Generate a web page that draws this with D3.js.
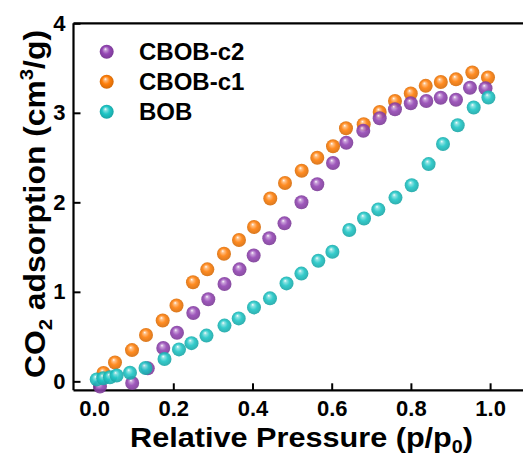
<!DOCTYPE html>
<html>
<head>
<meta charset="utf-8">
<script src="https://cdn.jsdelivr.net/npm/d3@7/dist/d3.min.js"></script>
<style>
  html, body { margin: 0; padding: 0; background: #fff; }
  svg { display: block; }
  text { font-family: Arial, "Liberation Sans", sans-serif; font-weight: bold; fill: #000; }
</style>
</head>
<body>
<svg id="chart" width="523" height="457"></svg>
<script>
// CO2 adsorption isotherms: relative pressure (p/p0) vs uptake (cm3/g)
const seriesNames = ["CBOB-c2", "CBOB-c1", "BOB"];
const seriesColors = ["#9446b4", "#ff7f0a", "#1fc6c6"];

const c2P = [0.0149, 0.0962, 0.1356, 0.1747, 0.2093, 0.2505, 0.2884, 0.3293, 0.3672, 0.4030,
             0.4424, 0.4808, 0.5237, 0.5636, 0.6033, 0.6369, 0.6798, 0.7212, 0.7598, 0.7997,
             0.8389, 0.8753, 0.9139, 0.9492, 0.9884];
const c2Q = [-0.058, -0.019, 0.145, 0.372, 0.543, 0.763, 0.917, 1.087, 1.251, 1.406,
             1.598, 1.765, 2.000, 2.202, 2.439, 2.666, 2.800, 2.939, 3.039, 3.106,
             3.132, 3.169, 3.146, 3.280, 3.274];

const c1P = [0.0237, 0.0528, 0.0957, 0.1311, 0.1732, 0.2081, 0.2497, 0.2859, 0.3280, 0.3659,
             0.4038, 0.4449, 0.4821, 0.5242, 0.5636, 0.6033, 0.6361, 0.6808, 0.7212, 0.7598,
             0.7997, 0.8374, 0.8755, 0.9139, 0.9551, 0.9947];
const c1Q = [0.093, 0.210, 0.349, 0.517, 0.679, 0.847, 1.107, 1.251, 1.426, 1.579,
             1.724, 2.042, 2.216, 2.353, 2.498, 2.626, 2.827, 2.873, 3.009, 3.132,
             3.216, 3.301, 3.344, 3.374, 3.450, 3.394];

const bobP = [0.0066, 0.0232, 0.0401, 0.0570, 0.0906, 0.1298, 0.1778, 0.2144, 0.2460, 0.2838,
              0.3293, 0.3652, 0.4038, 0.4442, 0.4859, 0.5235, 0.5662, 0.6018, 0.6444, 0.6816,
              0.7177, 0.7611, 0.8021, 0.8447, 0.8811, 0.9182, 0.9586, 0.9957];
const bobQ = [0.022, 0.034, 0.045, 0.065, 0.096, 0.149, 0.249, 0.357, 0.427, 0.511,
              0.623, 0.703, 0.826, 0.927, 1.094, 1.204, 1.347, 1.447, 1.690, 1.820,
              1.921, 2.053, 2.190, 2.427, 2.651, 2.861, 3.059, 3.171];

const xTicks = [0.0, 0.2, 0.4, 0.6, 0.8, 1.0];
const yTicks = [0, 1, 2, 3, 4];

const svg = d3.select("#chart");
svg.append("rect").attr("width", 523).attr("height", 457).attr("fill", "#fff");

const x = d3.scaleLinear().domain([-0.052, 1.1]).range([73.5, 529.7]);
const y = d3.scaleLinear().domain([-0.1, 4]).range([390.3, 23.3]);

// shaded sphere gradients, one per series
const defs = svg.append("defs");
seriesColors.forEach((c, i) => {
  const base = d3.color(c);
  const g = defs.append("radialGradient")
    .attr("id", "ball" + i)
    .attr("cx", "50%").attr("cy", "50%").attr("r", "55%")
    .attr("fx", "40%").attr("fy", "30%");
  g.append("stop").attr("offset", "0%").attr("stop-color", "#ffffff");
  g.append("stop").attr("offset", "18%").attr("stop-color", d3.interpolateRgb(base, "#fff")(0.45));
  g.append("stop").attr("offset", "50%").attr("stop-color", base.formatHex());
  g.append("stop").attr("offset", "100%").attr("stop-color", base.darker(0.6).formatHex());
});

const rBall = 7;

// axes frame
const plotLeft = x.range()[0], plotBottom = y.range()[0], plotTop = y.range()[1];
svg.append("line").attr("x1", plotLeft).attr("x2", 523).attr("y1", plotTop).attr("y2", plotTop)
  .attr("stroke", "#000").attr("stroke-width", 2.2);

const xAxis = d3.axisBottom(x).tickValues(xTicks).tickSize(-7).tickPadding(10)
  .tickFormat(d3.format(".1f"));
const gx = svg.append("g").attr("transform", `translate(0,${plotBottom})`).call(xAxis);
gx.select(".domain").attr("d", `M${plotLeft},0H523`).attr("stroke-width", 2.2);
gx.selectAll(".tick line").attr("stroke-width", 2);
gx.selectAll(".tick text").attr("font-size", 22).attr("font-family", "Arial, 'Liberation Sans', sans-serif")
  .attr("font-weight", "bold").attr("dy", "0.71em");

const yAxis = d3.axisLeft(y).tickValues(yTicks).tickSize(-7).tickPadding(8).tickFormat(d3.format("d"));
const gy = svg.append("g").attr("transform", `translate(${plotLeft},0)`).call(yAxis);
gy.select(".domain").attr("d", `M0,${plotTop}V${plotBottom}`).attr("stroke-width", 2.2);
gy.selectAll(".tick line").attr("stroke-width", 2);
gy.selectAll(".tick text").attr("font-size", 22).attr("font-family", "Arial, 'Liberation Sans', sans-serif")
  .attr("font-weight", "bold");

// data points: orange below, purple over it, cyan on top
const drawSeries = (P, Q, idx) => {
  svg.append("g").selectAll("circle")
    .data(P.map((p, i) => [p, Q[i]]))
    .join("circle")
    .attr("cx", d => x(d[0]))
    .attr("cy", d => y(d[1]))
    .attr("r", rBall)
    .attr("fill", `url(#ball${idx})`)
    .attr("fill-opacity", 0.9);
};
drawSeries(c1P, c1Q, 1);
drawSeries(c2P, c2Q, 0);
drawSeries(bobP, bobQ, 2);

// legend
const legend = svg.append("g");
seriesNames.forEach((name, i) => {
  const ly = 51.7 + i * 30;
  legend.append("circle").attr("cx", 106.7).attr("cy", ly).attr("r", rBall)
    .attr("fill", `url(#ball${i})`);
  legend.append("text").attr("x", 139).attr("y", ly + 8.5)
    .attr("font-size", 24).text(name);
});

// axis titles
const xt = svg.append("text").attr("x", 130).attr("y", 447).attr("font-size", 28)
  .attr("textLength", 343).attr("lengthAdjust", "spacingAndGlyphs");
xt.append("tspan").text("Relative Pressure (p/p");
xt.append("tspan").attr("font-size", 18).attr("dy", 6).text("0");
xt.append("tspan").attr("dy", -6).text(")");

const yt = svg.append("text")
  .attr("transform", "translate(45,378) rotate(-90)")
  .attr("font-size", 30)
  .attr("textLength", 348).attr("lengthAdjust", "spacingAndGlyphs");
yt.append("tspan").text("CO");
yt.append("tspan").attr("font-size", 19).attr("dy", 7).text("2");
yt.append("tspan").attr("dy", -7).text(" adsorption (cm");
yt.append("tspan").attr("font-size", 19).attr("dy", -12).text("3");
yt.append("tspan").attr("dy", 12).text("/g)");
</script>
</body>
</html>
